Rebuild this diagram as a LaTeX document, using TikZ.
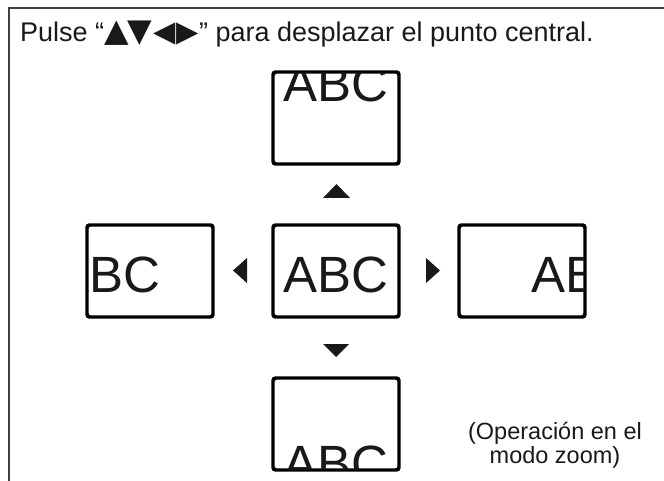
\documentclass[tikz,border=0pt]{standalone}
\usepackage{fontspec}
\setmainfont{Liberation Sans}
\newfontfamily\symfont{DejaVu Sans}
\usetikzlibrary{positioning}

\begin{document}
\begin{tikzpicture}
  [x=1pt, y=-1pt,
   screen/.style={draw, line width=2.2pt, rounded corners=3pt, minimum width=125pt, minimum height=91pt, inner sep=0pt},
   abc/.style={anchor=base, inner sep=0pt, font=\fontsize{51}{51}\selectfont, text=black!90},
   frame/.style={line width=1.5pt, draw=black!75},
   tri/.style={fill=black!90}]
  \useasboundingbox (0,0) rectangle (664,481);
  % Outer frame and title
  \draw[frame] (9,481) -- (9,8) -- (664,8);
  \node[anchor=base west, inner sep=0pt, font=\fontsize{27}{27}\selectfont, text=black!90] (title) at (20,42)
    {Pulse “{\symfont\fontsize{32}{32}\selectfont▲\kern-1pt▼\kern1pt{\fontsize{29}{29}\selectfont◀\kern1pt▶}}” para desplazar el punto central.};
  % Screens
  \node[screen] (mid)   at (336,271) {};
  \node[screen] (up)    at (336,118) {};
  \node[screen] (down)  at (336,424) {};
  \node[screen] (left)  at (150,271) {};
  \node[screen] (right) at (522,271) {};
  % Picture shown in each screen
  \begin{scope}
    \clip[rounded corners=3pt] (mid.south west) rectangle (mid.north east);
    \node[abc] (abcmid) at (336,292) {ABC};
  \end{scope}
  \begin{scope}
    \clip[rounded corners=3pt] (up.south west) rectangle (up.north east);
    \node[abc] (abcup) at (336,102) {ABC};
  \end{scope}
  \begin{scope}
    \clip[rounded corners=3pt] (down.south west) rectangle (down.north east);
    \node[abc] (abcdown) at (336,481) {ABC};
  \end{scope}
  \begin{scope}
    \clip[rounded corners=3pt] (left.south west) rectangle (left.north east);
    \node[abc] (abcleft) at (108,292) {ABC};
  \end{scope}
  \begin{scope}
    \clip[rounded corners=3pt] (right.south west) rectangle (right.north east);
    \node[abc] (abcright) at (584,292) {ABC};
  \end{scope}
  % Redraw the frames above the clipped text
  \foreach \s in {mid,up,down,left,right}
    \draw[line width=2.2pt, rounded corners=3pt] (\s.south west) rectangle (\s.north east);
  % Arrow keys
  \fill[tri] (323,198) -- (336.5,184) -- (350,198) -- cycle;
  \fill[tri] (323,344) -- (336,357) -- (349,344) -- cycle;
  \fill[tri] (247,258) -- (233,270.5) -- (247,283) -- cycle;
  \fill[tri] (426,258) -- (440,270.5) -- (426,283) -- cycle;
  % Note
  \node[anchor=north, align=center, inner sep=0pt, text=black!90,
        font=\fontsize{23.5}{24}\selectfont] (note) at (555,422)
    {(Operación en el\\modo zoom)};
\end{tikzpicture}
\end{document}
